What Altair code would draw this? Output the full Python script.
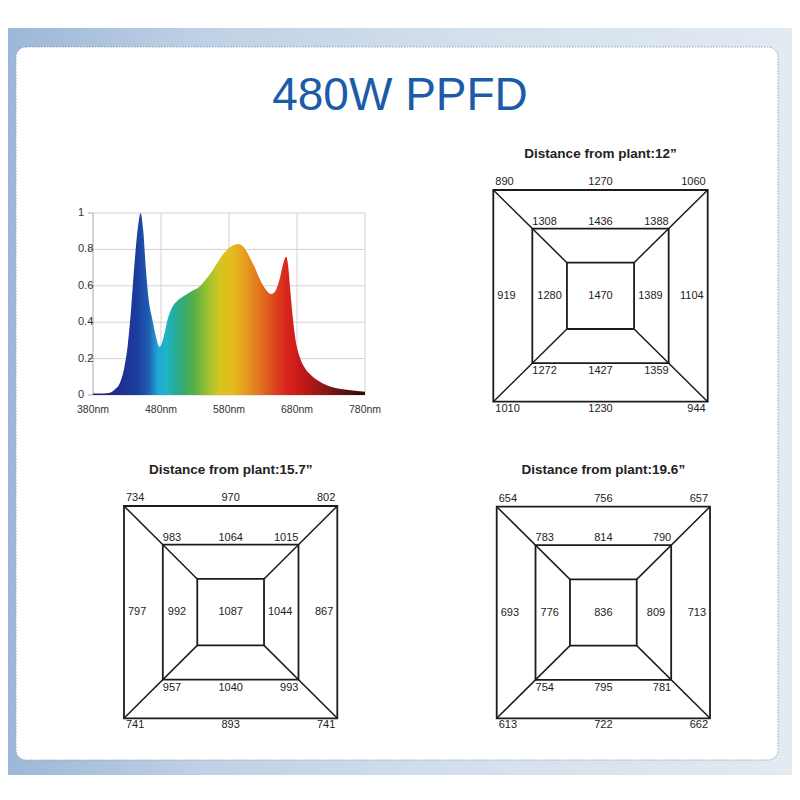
import altair as alt
import pandas as pd

# ---------------- data ----------------
TITLE = "480W PPFD"

WAVELENGTHS = [380, 395, 405, 412, 420, 426, 431, 436, 441, 446, 450, 454, 458, 462, 467,
               472, 478, 484, 490, 496, 502, 508, 516, 525, 535, 545, 555, 565, 575, 585,
               594, 602, 610, 618, 626, 634, 642, 648, 654, 659, 664, 667, 670, 674, 678,
               684, 692, 702, 715, 730, 750, 780]
INTENSITY = [0.008, 0.008, 0.012, 0.03, 0.07, 0.15, 0.27, 0.47, 0.72, 0.92, 1.0, 0.9, 0.68,
             0.52, 0.42, 0.33, 0.265, 0.32, 0.42, 0.48, 0.51, 0.53, 0.55, 0.57, 0.59, 0.63,
             0.68, 0.74, 0.79, 0.82, 0.83, 0.81, 0.76, 0.70, 0.63, 0.58, 0.555, 0.57, 0.63,
             0.71, 0.76, 0.71, 0.58, 0.42, 0.30, 0.21, 0.145, 0.105, 0.07, 0.045, 0.03, 0.018]

X_TICKS = [380, 480, 580, 680, 780]
X_TICK_LABELS = ["380nm", "480nm", "580nm", "680nm", "780nm"]
Y_TICKS = [0, 0.2, 0.4, 0.6, 0.8, 1.0]
Y_TICK_LABELS = ["0", "0.2", "0.4", "0.6", "0.8", "1"]

DIAGRAM_TITLES = ["Distance from plant:12\u201d", "Distance from plant:15.7\u201d",
                  "Distance from plant:19.6\u201d"]
# order: outer TL, T, TR, L, R, BL, B, BR; middle TL, T, TR, L, R, BL, B, BR; centre
PPFD_12 = [890, 1270, 1060, 919, 1104, 1010, 1230, 944,
           1308, 1436, 1388, 1280, 1389, 1272, 1427, 1359, 1470]
PPFD_15_7 = [734, 970, 802, 797, 867, 741, 893, 741,
             983, 1064, 1015, 992, 1044, 957, 1040, 993, 1087]
PPFD_19_6 = [654, 756, 657, 693, 713, 613, 722, 662,
             783, 814, 790, 776, 809, 754, 795, 781, 836]

# ---------------- styles / layout ----------------
FONT = "Liberation Sans"
W, H = 784, 776
LINE = "#1c1c1c"
RINGS = [1.0, 0.636, 0.313]

SPEC_X_RANGE = [85, 357]
SPEC_Y_RANGE = [387, 205]

DIAGRAM_BOXES = [  # left, right, top, bottom (px)
    (485.3, 699.7, 182.0, 393.7),
    (116.0, 329.3, 498.0, 710.3),
    (488.7, 702.0, 498.7, 710.3),
]

SPECTRUM_STOPS = [
    (380, "#2a1f7a"), (420, "#1e2f8e"), (445, "#1b3d9e"), (462, "#1f5fb2"),
    (475, "#22a6d6"), (488, "#1fb5c4"), (500, "#24ad9c"), (515, "#3aaa6a"),
    (530, "#5cb043"), (548, "#9ac033"), (565, "#d2c622"), (585, "#e6bb1c"),
    (605, "#e69a1e"), (625, "#e2751e"), (645, "#dc4a1e"), (665, "#d8241c"),
    (690, "#c01818"), (720, "#8c1616"), (750, "#561212"), (780, "#2e0a0a"),
]

layers = []
one = pd.DataFrame({"k": [0]})

# background frame
bg_grad = alt.Gradient(
    gradient="linear", x1=0, x2=1, y1=0, y2=0,
    stops=[alt.GradientStop(offset=0, color="#9cb7d7"),
           alt.GradientStop(offset=0.25, color="#bfd1e6"),
           alt.GradientStop(offset=0.6, color="#d4e0ed"),
           alt.GradientStop(offset=1, color="#e2eaf2")])
layers.append(alt.Chart(one).mark_rect(color=bg_grad).encode(
    x=alt.value(0), x2=alt.value(W), y=alt.value(20), y2=alt.value(767)))

# white panel
layers.append(alt.Chart(one).mark_rect(
    fill="white", stroke="#9aa6b4", strokeWidth=1, strokeDash=[1.5, 1.5],
    cornerRadius=10).encode(
    x=alt.value(8), x2=alt.value(770), y=alt.value(39), y2=alt.value(752)))

# title
layers.append(alt.Chart(pd.DataFrame({"t": [TITLE]})).mark_text(
    font=FONT, fontSize=46, color="#1b5ca8", align="center", baseline="middle").encode(
    x=alt.value(392), y=alt.value(88), text="t:N"))

# ---------------- spectrum ----------------
def sx():
    return alt.Scale(domain=[X_TICKS[0], X_TICKS[-1]], range=SPEC_X_RANGE, nice=False, zero=False)

def sy():
    return alt.Scale(domain=[Y_TICKS[0], Y_TICKS[-1]], range=SPEC_Y_RANGE, nice=False, zero=False)

hgrid = pd.DataFrame({"v": Y_TICKS, "a": X_TICKS[0], "b": X_TICKS[-1]})
vgrid = pd.DataFrame({"w": X_TICKS[1:], "a": Y_TICKS[0], "b": Y_TICKS[-1]})
layers.append(alt.Chart(hgrid).mark_rule(color="#d2d2d2", strokeWidth=1).encode(
    x=alt.X("a:Q", scale=sx(), axis=None), x2="b:Q",
    y=alt.Y("v:Q", scale=sy(), axis=None)))
layers.append(alt.Chart(vgrid).mark_rule(color="#d2d2d2", strokeWidth=1).encode(
    x=alt.X("w:Q", scale=sx(), axis=None),
    y=alt.Y("a:Q", scale=sy(), axis=None), y2="b:Q"))
axis_line = pd.DataFrame({"w": [X_TICKS[0]], "a": [Y_TICKS[0]], "b": [Y_TICKS[-1]]})
layers.append(alt.Chart(axis_line).mark_rule(color="#a8a8a8", strokeWidth=1).encode(
    x=alt.X("w:Q", scale=sx(), axis=None),
    y=alt.Y("a:Q", scale=sy(), axis=None), y2="b:Q"))
ticks = pd.DataFrame({"v": Y_TICKS, "a": X_TICKS[0]})
layers.append(alt.Chart(ticks).mark_rule(color="#a8a8a8", strokeWidth=1, x2Offset=-5).encode(
    x=alt.X("a:Q", scale=sx(), axis=None), x2="a:Q",
    y=alt.Y("v:Q", scale=sy(), axis=None)))

spec_grad = alt.Gradient(
    gradient="linear", x1=0, x2=1, y1=0, y2=0,
    stops=[alt.GradientStop(offset=(w - 380) / 400, color=c) for w, c in SPECTRUM_STOPS])
spec = pd.DataFrame({"wl": WAVELENGTHS, "v": INTENSITY})
layers.append(alt.Chart(spec).mark_area(color=spec_grad, interpolate="monotone").encode(
    x=alt.X("wl:Q", scale=sx(), axis=None),
    y=alt.Y("v:Q", scale=sy(), axis=None)))

ylab = pd.DataFrame({"v": Y_TICKS, "t": Y_TICK_LABELS, "a": X_TICKS[0]})
layers.append(alt.Chart(ylab).mark_text(
    font=FONT, fontSize=11, color="#333333", align="left", baseline="middle", dx=-15).encode(
    x=alt.X("a:Q", scale=sx(), axis=None), y=alt.Y("v:Q", scale=sy(), axis=None), text="t:N"))
xlab = pd.DataFrame({"w": X_TICKS, "t": X_TICK_LABELS, "a": Y_TICKS[0]})
layers.append(alt.Chart(xlab).mark_text(
    font=FONT, fontSize=10.5, color="#333333", align="center", baseline="middle", dy=15).encode(
    x=alt.X("w:Q", scale=sx(), axis=None), y=alt.Y("a:Q", scale=sy(), axis=None), text="t:N"))

# ---------------- PPFD diagrams ----------------
def slot_layout(hx, hy):
    rows = []
    for k, r in enumerate(RINGS[:2]):
        outer = k == 0
        top = (8.0 if outer else 6.8) / hy
        bot = (7.0 if outer else 8.3) / hy
        cdx = (2.0 if outer else 0.0) / hx
        ldx = (4.0 if outer else 5.0) / hx
        rdx = (4.0 if outer else 6.0) / hx
        rows += [
            (-r + cdx, r + top, "left"), (0, r + top, "center"), (r - cdx, r + top, "right"),
            (-r + ldx, 0, "left"), (r - rdx, 0, "right"),
            (-r + cdx, -r - bot, "left"), (0, -r - bot, "center"), (r - cdx, -r - bot, "right"),
        ]
    rows.append((0, 0, "center"))
    return rows


def diagram(values, title, box):
    left, right, top, bottom = box
    hx, hy = (right - left) / 2, (bottom - top) / 2

    def dx():
        return alt.Scale(domain=[-1, 1], range=[left, right], nice=False, zero=False)

    def dy():
        return alt.Scale(domain=[-1, 1], range=[bottom, top], nice=False, zero=False)

    out = []
    sq = pd.DataFrame({"r": RINGS, "nr": [-r for r in RINGS]})
    out.append(alt.Chart(sq).mark_rect(fillOpacity=0, stroke=LINE, strokeWidth=1.8).encode(
        x=alt.X("nr:Q", scale=dx(), axis=None), x2="r:Q",
        y=alt.Y("nr:Q", scale=dy(), axis=None), y2="r:Q"))
    signs = [(-1, 1), (1, 1), (-1, -1), (1, -1)]
    diag = pd.DataFrame({
        "x": [s[0] * RINGS[0] for s in signs], "y": [s[1] * RINGS[0] for s in signs],
        "x2": [s[0] * RINGS[2] for s in signs], "y2": [s[1] * RINGS[2] for s in signs]})
    out.append(alt.Chart(diag).mark_rule(color=LINE, strokeWidth=1.5).encode(
        x=alt.X("x:Q", scale=dx(), axis=None), x2="x2:Q",
        y=alt.Y("y:Q", scale=dy(), axis=None), y2="y2:Q"))
    lay = slot_layout(hx, hy)
    lab = pd.DataFrame({"val": values, "ux": [p[0] for p in lay],
                        "uy": [p[1] for p in lay], "al": [p[2] for p in lay]})
    for al in ["left", "center", "right"]:
        sub = lab[lab["al"] == al]
        out.append(alt.Chart(sub).mark_text(
            font=FONT, fontSize=11, color="#222222", align=al, baseline="middle").encode(
            x=alt.X("ux:Q", scale=dx(), axis=None), y=alt.Y("uy:Q", scale=dy(), axis=None),
            text="val:N"))
    tdf = pd.DataFrame({"t": [title], "x": [0], "y": [1]})
    out.append(alt.Chart(tdf).mark_text(
        font=FONT, fontSize=13.5, fontWeight="bold", color="#222222", align="center",
        baseline="middle", dy=-36.5).encode(
        x=alt.X("x:Q", scale=dx(), axis=None), y=alt.Y("y:Q", scale=dy(), axis=None),
        text="t:N"))
    return out


for vals, ttl, box in zip([PPFD_12, PPFD_15_7, PPFD_19_6], DIAGRAM_TITLES, DIAGRAM_BOXES):
    layers += diagram(vals, ttl, box)

chart = alt.layer(*layers).resolve_scale(
    x="independent", y="independent"
).properties(
    width=W, height=H, padding=0, background="white",
    autosize=alt.AutoSizeParams(type="none")
).configure_view(stroke=None)

chart.save("out.html", embed_options={"renderer": "svg", "actions": False})
